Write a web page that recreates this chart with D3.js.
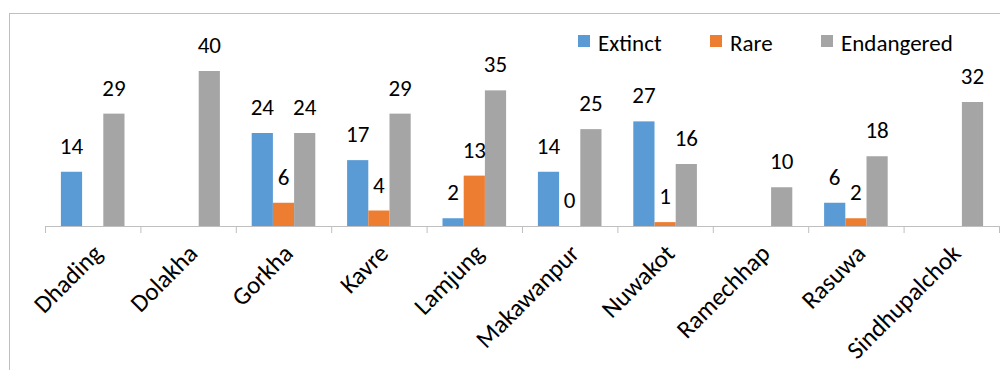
<!DOCTYPE html>
<html>
<head>
<meta charset="utf-8">
<script src="https://cdn.jsdelivr.net/npm/d3@7"></script>
<style>
  body { margin: 0; background: #fff; }
  svg { display: block; font-family: Carlito, Calibri, "Open Sans", sans-serif; }
</style>
</head>
<body>
<svg id="chart" width="1000" height="370"></svg>
<script>
var districts = ['Dhading', 'Dolakha', 'Gorkha', 'Kavre', 'Lamjung', 'Makawanpur', 'Nuwakot', 'Ramechhap', 'Rasuwa', 'Sindhupalchok'];
var seriesNames = ['Extinct', 'Rare', 'Endangered'];
var extinct = [14, null, 24, 17, 2, 14, 27, null, 6, null];
var rare = [null, null, 6, 4, 13, 0, 1, null, 2, null];
var endangered = [29, 40, 24, 29, 35, 25, 16, 10, 18, 32];
var colors = ['#5b9bd5', '#ed7d31', '#a5a5a5'];

var svg = d3.select('#chart');

// outer chart border
svg.append('rect')
	.attr('x', 9.5).attr('y', 13.5)
	.attr('width', 1000).attr('height', 400)
	.attr('fill', 'none')
	.attr('stroke', '#bfbfbf');

var baseY = 226;

var x = d3.scaleBand()
	.domain(districts)
	.range([45, 999]);

var xs = d3.scaleBand()
	.domain(seriesNames)
	.range([0, x.bandwidth()])
	.paddingOuter(0.75);

var y = d3.scaleLinear()
	.domain([0, 40])
	.range([baseY, 71]);

var rows = [];
[extinct, rare, endangered].forEach(function(vals, si) {
	vals.forEach(function(v, i) {
		if (v === null) return;
		rows.push({district: districts[i], series: seriesNames[si], value: v, color: colors[si]});
	});
});

svg.append('g').selectAll('rect')
	.data(rows)
	.enter()
	.append('rect')
		.attr('x', function(d) { return x(d.district) + xs(d.series); })
		.attr('y', function(d) { return y(d.value); })
		.attr('width', xs.bandwidth())
		.attr('height', function(d) { return baseY - y(d.value); })
		.attr('fill', function(d) { return d.color; });

svg.append('g').selectAll('text')
	.data(rows)
	.enter()
	.append('text')
		.attr('x', function(d) { return x(d.district) + xs(d.series) + xs.bandwidth() / 2; })
		.attr('y', function(d) { return y(d.value) - 18; })
		.attr('text-anchor', 'middle')
		.attr('font-size', 23)
		.attr('fill', '#000')
		.text(function(d) { return d.value; });

// x axis
var xAxis = d3.axisBottom(x).tickSize(0).tickFormat('');
var gx = svg.append('g')
	.attr('transform', 'translate(0,' + baseY + ')')
	.call(xAxis);
gx.select('.domain').attr('stroke', '#bfbfbf').attr('d', 'M45,0.5H999');
gx.selectAll('.tickmark')
	.data(districts.concat(['_end']))
	.enter()
	.append('line')
		.attr('x1', function(d, i) { return 45.5 + i * x.step(); })
		.attr('x2', function(d, i) { return 45.5 + i * x.step(); })
		.attr('y1', 0).attr('y2', 7)
		.attr('stroke', '#bfbfbf');

svg.append('g').selectAll('text')
	.data(districts)
	.enter()
	.append('text')
		.attr('transform', function(d) { return 'translate(' + (x(d) + x.bandwidth() / 2 + 11) + ',' + (baseY + 29) + ') rotate(-45)'; })
		.attr('text-anchor', 'end')
		.attr('font-size', 25)
		.attr('fill', '#000')
		.text(function(d) { return d; });

// legend
var legendX = [578, 710, 821];
var legend = svg.append('g').selectAll('g')
	.data(seriesNames)
	.enter()
	.append('g')
		.attr('transform', function(d, i) { return 'translate(' + legendX[i] + ',35)'; });
legend.append('rect')
	.attr('width', 12).attr('height', 12)
	.attr('fill', function(d, i) { return colors[i]; });
legend.append('text')
	.attr('x', 20).attr('y', 16)
	.attr('font-size', 23)
	.attr('fill', '#000')
	.text(function(d) { return d; });
</script>
</body>
</html>
